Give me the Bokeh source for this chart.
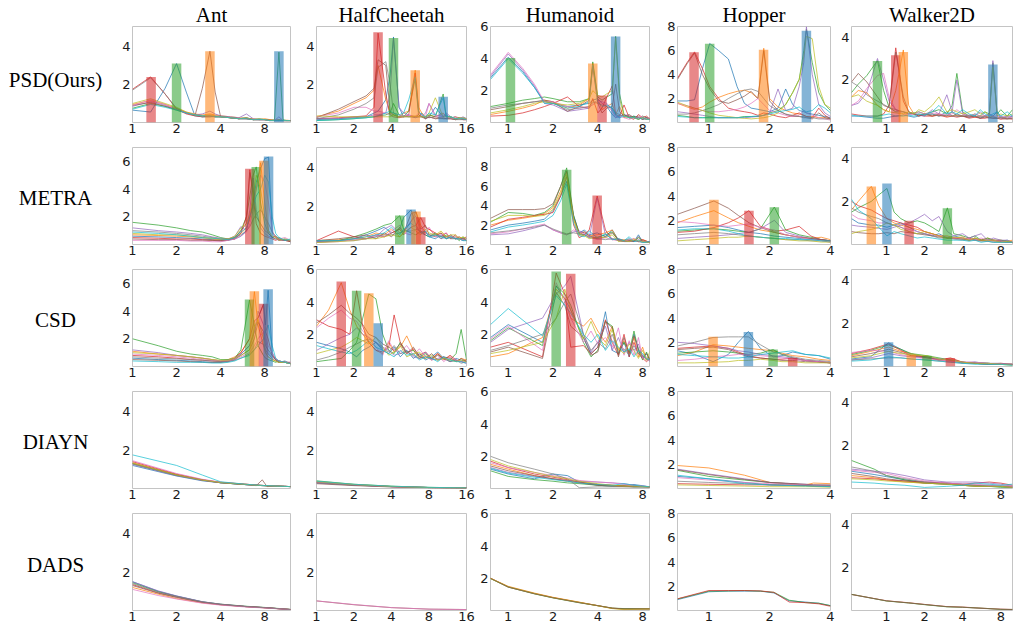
import math
from bokeh.plotting import figure
from bokeh.layouts import row, column
from bokeh.models import Range1d, FixedTicker, PrintfTickFormatter, ColumnDataSource
from bokeh.core.properties import value
from bokeh.embed import file_html
from bokeh.resources import INLINE

# ---------------- labels / axes ----------------
ROW_LABELS = ["PSD(Ours)", "METRA", "CSD", "DIAYN", "DADS"]
COLUMN_TITLES = ["Ant", "HalfCheetah", "Humanoid", "Hopper", "Walker2D"]
X_TICKS = [1, 2, 4, 8, 16]
Y_TICKS = [2, 4, 6, 8]
X_LIMITS = [(1, 12), (1, 16), (0.76, 8.9), (0.7, 4), (0.53, 9.9)]
Y_LIMITS = [
    [5.05, 5.05, 6.02, 8.02, 4.5],
    [7.0, 5.05, 10.0, 8.02, 4.5],
    [7.0, 6.02, 6.02, 8.02, 4.5],
    [5.05, 5.05, 6.02, 8.02, 4.5],
    [5.05, 5.05, 6.02, 8.02, 4.5],
]
TAB10 = ["#1f77b4", "#ff7f0e", "#2ca02c", "#d62728", "#9467bd",
         "#8c564b", "#e377c2", "#7f7f7f", "#bcbd22", "#17becf"]
BAR_COLORS = {"blue": "#1f77b4", "orange": "#ff7f0e", "green": "#2ca02c", "red": "#d62728"}

# ================= ROW 1 : PSD =================
PSD_ANT_X = [1, 1.33, 1.67, 2, 2.33, 2.67, 3, 3.38, 3.67, 4, 4.67, 5.33, 6, 6.67, 7.33, 8, 8.67, 9.33, 10, 10.67, 11.33, 12]
PSD_ANT_Y = [
    [0.65, 0.55, 1.8, 3.1, 1.6, 0.35, 0.3, 0.3, 0.35, 0.3, 0.25, 0.2, 0.25, 0.15, 0.2, 0.15, 0.12, 0.1, 0.15, 0.1, 0.1, 0.1],
    [0.95, 1.15, 0.95, 0.75, 0.55, 0.45, 0.4, 0.45, 0.4, 0.35, 0.3, 0.25, 0.2, 0.2, 0.15, 0.2, 0.15, 0.12, 0.15, 0.1, 0.12, 0.1],
    [0.75, 1.0, 0.85, 0.65, 0.5, 0.4, 0.35, 0.35, 0.3, 0.3, 0.25, 0.2, 0.2, 0.15, 0.15, 0.15, 0.1, 0.15, 3.7, 0.15, 0.1, 0.1],
    [1.75, 2.4, 1.5, 0.7, 0.45, 0.35, 0.3, 0.35, 0.3, 0.3, 0.25, 0.2, 0.2, 0.15, 0.15, 0.15, 0.12, 0.1, 0.1, 0.1, 0.1, 0.1],
    [0.85, 1.1, 0.9, 0.7, 0.5, 0.4, 0.45, 0.6, 0.45, 0.35, 0.3, 0.25, 0.45, 0.2, 0.15, 0.15, 0.1, 0.1, 0.3, 0.1, 0.1, 0.1],
    [0.9, 1.05, 0.85, 0.7, 0.5, 0.35, 1.8, 3.75, 1.6, 0.3, 0.25, 0.2, 0.25, 0.15, 0.15, 0.15, 0.12, 0.1, 0.1, 0.1, 0.1, 0.1],
    [0.9, 1.2, 0.95, 0.7, 0.5, 0.4, 0.35, 0.4, 0.35, 0.3, 0.25, 0.2, 0.2, 0.15, 0.15, 0.15, 0.1, 0.12, 0.1, 0.1, 0.1, 0.1],
    [1.7, 2.35, 1.5, 0.75, 0.5, 0.4, 0.3, 0.3, 0.3, 0.3, 0.25, 0.2, 0.2, 0.15, 0.15, 0.15, 0.1, 0.1, 0.1, 0.1, 0.1, 0.1],
    [1.0, 1.25, 1.0, 0.8, 0.55, 0.4, 0.35, 0.4, 0.35, 0.3, 0.25, 0.2, 0.25, 0.15, 0.2, 0.15, 0.12, 0.1, 0.12, 0.1, 0.1, 0.1],
    [0.7, 0.95, 0.8, 0.65, 0.5, 0.4, 0.35, 0.35, 0.3, 0.3, 0.25, 0.2, 0.2, 0.15, 0.15, 0.15, 0.1, 0.1, 0.1, 0.1, 0.1, 0.1],
]
PSD_ANT_BAR_X = [1.34, 2.0, 3.38, 10.0]
PSD_ANT_BAR_H = [2.4, 3.1, 3.75, 3.75]
PSD_ANT_BAR_C = ["red", "green", "orange", "blue"]

PSD_HC_X = [1, 1.5, 2, 2.5, 2.9, 3.12, 3.6, 3.9, 4.15, 4.6, 5, 5.5, 6.2, 6.6, 7, 7.5, 8, 9, 10.4, 11, 12, 13, 14, 15, 16]
PSD_HC_Y = [
    [0.15, 0.2, 0.25, 0.3, 0.5, 0.6, 1.2, 2.5, 4.5, 0.8, 0.3, 0.35, 0.25, 0.3, 0.5, 0.2, 0.3, 0.8, 0.3, 0.4, 0.25, 0.3, 0.2, 0.25, 0.2],
    [0.3, 0.6, 1.0, 1.3, 1.7, 3.0, 1.2, 0.5, 0.4, 0.3, 0.5, 0.6, 2.75, 0.8, 0.5, 0.3, 0.4, 0.3, 0.5, 0.3, 0.2, 0.3, 0.25, 0.2, 0.2],
    [0.1, 0.15, 0.2, 0.25, 0.3, 0.35, 0.4, 0.5, 1.0, 0.4, 0.3, 0.6, 2.3, 0.4, 0.3, 0.25, 0.4, 0.3, 1.5, 0.3, 0.3, 0.2, 0.25, 0.2, 0.2],
    [0.2, 0.25, 0.3, 0.35, 0.8, 4.7, 1.5, 0.4, 0.3, 0.25, 0.3, 0.4, 2.6, 0.6, 0.3, 0.2, 0.3, 0.2, 0.25, 0.2, 0.2, 0.15, 0.2, 0.15, 0.15],
    [0.2, 0.2, 0.3, 0.3, 0.4, 0.4, 0.5, 1.5, 4.4, 0.8, 0.5, 0.4, 0.3, 0.3, 0.3, 0.5, 1.0, 0.4, 0.3, 0.5, 0.3, 0.2, 0.2, 0.3, 0.2],
    [0.25, 0.7, 1.1, 1.4, 1.8, 3.3, 3.0, 0.6, 0.4, 0.3, 0.35, 0.3, 0.3, 0.4, 0.3, 0.3, 0.25, 0.3, 0.2, 0.2, 0.2, 0.15, 0.2, 0.15, 0.15],
    [0.3, 0.5, 0.8, 0.8, 0.6, 0.6, 0.5, 0.4, 0.5, 0.4, 0.3, 0.4, 0.3, 0.5, 0.4, 0.3, 1.0, 0.3, 0.4, 0.3, 0.2, 0.3, 0.2, 0.2, 0.2],
    [0.2, 0.4, 0.7, 1.0, 1.3, 2.9, 3.2, 2.0, 0.5, 0.3, 0.3, 0.3, 0.3, 0.3, 0.3, 0.2, 0.3, 0.2, 0.2, 0.2, 0.2, 0.15, 0.15, 0.15, 0.15],
    [0.35, 0.3, 0.3, 0.3, 0.3, 0.3, 0.3, 0.3, 0.4, 0.3, 0.3, 0.3, 0.35, 0.3, 0.3, 0.3, 0.5, 1.3, 0.3, 0.3, 0.3, 0.2, 0.2, 0.25, 0.2],
    [0.1, 0.15, 0.2, 0.25, 0.3, 0.35, 0.5, 0.6, 0.5, 0.4, 0.5, 1.2, 2.4, 0.6, 0.4, 0.3, 0.5, 0.4, 1.3, 0.3, 0.3, 0.2, 0.2, 0.2, 0.15],
]
PSD_HC_BAR_X = [3.12, 4.15, 6.2, 10.4]
PSD_HC_BAR_H = [4.75, 4.45, 2.75, 1.35]
PSD_HC_BAR_C = ["red", "green", "orange", "blue"]

PSD_HUM_X = [0.76, 1.0, 1.25, 1.5, 1.75, 2.0, 2.5, 3.0, 3.5, 3.7, 4.0, 4.27, 4.6, 5.0, 5.27, 5.6, 6.0, 6.5, 7.0, 7.5, 8.0, 8.5, 9.0]
PSD_HUM_Y = [
    [2.8, 4.1, 3.2, 2.2, 1.3, 1.2, 1.0, 1.1, 1.2, 1.4, 1.5, 1.2, 1.0, 0.5, 0.3, 0.4, 0.5, 0.3, 0.4, 0.3, 0.2, 0.3, 0.2],
    [0.5, 0.7, 0.9, 1.1, 1.4, 1.3, 0.9, 1.1, 1.5, 3.7, 1.5, 0.8, 1.0, 1.2, 0.5, 1.0, 0.3, 0.4, 0.3, 0.2, 0.3, 0.2, 0.3],
    [1.0, 1.2, 1.4, 1.5, 1.6, 1.5, 1.3, 1.3, 1.5, 3.8, 1.6, 1.4, 1.6, 1.8, 5.4, 1.8, 0.5, 0.3, 0.4, 0.2, 0.4, 0.3, 0.2],
    [0.4, 0.45, 0.6, 0.8, 1.0, 1.2, 1.6, 1.0, 0.9, 1.5, 0.6, 0.9, 1.6, 2.3, 0.5, 0.4, 1.1, 0.3, 0.2, 0.5, 0.3, 0.4, 0.2],
    [2.9, 4.3, 3.3, 2.3, 1.2, 1.1, 0.7, 0.8, 0.9, 1.2, 1.4, 1.3, 1.2, 0.8, 0.4, 0.3, 0.5, 0.4, 0.3, 0.3, 0.2, 0.3, 0.2],
    [0.8, 1.0, 1.2, 1.3, 1.4, 1.3, 0.7, 1.0, 1.4, 3.5, 1.2, 0.6, 0.9, 1.0, 2.4, 0.7, 0.4, 0.5, 0.3, 0.4, 0.2, 0.3, 0.2],
    [3.0, 4.4, 3.4, 2.4, 1.3, 1.3, 1.0, 0.9, 1.0, 1.1, 1.3, 1.2, 1.1, 0.7, 0.3, 0.4, 0.3, 0.2, 0.3, 0.3, 0.4, 0.2, 0.3],
    [0.9, 1.1, 1.2, 1.3, 1.35, 1.2, 0.8, 0.9, 1.0, 1.3, 1.2, 1.1, 1.0, 0.9, 0.6, 0.5, 0.4, 0.4, 0.3, 0.3, 0.2, 0.2, 0.2],
    [0.6, 0.8, 1.0, 1.2, 1.3, 1.2, 1.1, 1.2, 1.5, 2.0, 1.7, 1.6, 1.8, 2.0, 5.3, 1.5, 0.4, 0.3, 0.3, 0.2, 0.3, 0.2, 0.2],
    [2.7, 4.0, 3.1, 2.2, 1.2, 1.2, 0.9, 1.0, 1.3, 3.6, 1.3, 1.0, 1.1, 0.9, 0.5, 0.3, 0.4, 0.3, 0.3, 0.2, 0.3, 0.2, 0.2],
]
PSD_HUM_BAR_X = [1.035, 3.7, 4.27, 5.27]
PSD_HUM_BAR_H = [4.05, 3.7, 1.7, 5.4]
PSD_HUM_BAR_C = ["green", "orange", "red", "blue"]

PSD_HOP_X = [0.7, 0.78, 0.85, 0.93, 1.01, 1.12, 1.25, 1.38, 1.5, 1.62, 1.75, 1.87, 2.0, 2.2, 2.4, 2.6, 2.8, 2.95, 3.04, 3.25, 3.5, 3.75, 4.0]
PSD_HOP_Y = [
    [1.8, 1.8, 1.9, 4.5, 6.6, 6.0, 5.3, 3.0, 1.6, 1.2, 1.1, 1.0, 0.9, 1.2, 2.8, 1.5, 1.0, 0.9, 0.8, 0.7, 0.6, 0.5, 0.4],
    [1.6, 1.3, 1.1, 1.3, 1.7, 2.1, 2.4, 2.6, 2.7, 2.5, 2.0, 6.2, 2.0, 1.3, 1.0, 0.8, 0.7, 0.6, 0.5, 0.5, 0.4, 0.4, 0.3],
    [0.6, 0.5, 0.4, 0.4, 0.4, 0.4, 0.4, 0.4, 0.5, 0.5, 0.5, 0.6, 0.8, 1.0, 1.5, 2.5, 3.6, 6.0, 7.8, 5.0, 2.5, 1.5, 1.0],
    [3.7, 5.0, 5.9, 4.5, 3.0, 2.0, 1.2, 1.0, 0.9, 0.8, 0.6, 0.8, 0.7, 0.5, 0.4, 0.6, 0.8, 0.6, 0.5, 0.4, 1.2, 0.6, 0.3],
    [0.9, 0.8, 0.7, 0.6, 0.5, 0.4, 0.4, 0.4, 0.4, 0.45, 0.5, 0.6, 0.8, 2.8, 1.0, 1.2, 3.0, 5.0, 8.0, 4.0, 1.5, 0.8, 0.5],
    [3.6, 4.9, 5.8, 4.0, 2.8, 1.8, 1.6, 1.9, 2.2, 2.6, 2.0, 6.0, 1.8, 1.0, 0.7, 0.5, 0.5, 0.4, 0.4, 0.3, 0.8, 0.4, 0.3],
    [1.6, 1.4, 1.2, 1.0, 0.9, 0.9, 1.0, 1.1, 1.3, 1.6, 2.0, 1.5, 1.0, 0.8, 0.6, 0.5, 0.6, 1.0, 0.8, 0.6, 0.4, 0.3, 0.2],
    [0.7, 0.7, 0.8, 1.0, 1.2, 1.5, 2.0, 2.4, 2.7, 2.8, 2.6, 2.0, 1.4, 1.0, 0.7, 0.6, 0.5, 0.5, 0.4, 0.4, 0.3, 0.3, 0.3],
    [1.7, 1.4, 1.2, 1.0, 0.8, 0.6, 0.5, 0.4, 0.35, 0.3, 0.35, 0.4, 0.5, 0.8, 1.5, 2.5, 3.6, 5.5, 7.2, 7.0, 3.0, 1.5, 1.2],
    [0.5, 0.45, 0.4, 0.4, 0.4, 0.4, 0.4, 0.4, 0.45, 0.5, 0.55, 0.6, 0.7, 0.9, 1.0, 1.1, 1.3, 1.0, 0.9, 1.0, 1.5, 1.2, 0.8],
]
PSD_HOP_BAR_X = [0.845, 1.01, 1.866, 3.04]
PSD_HOP_BAR_H = [5.86, 6.57, 6.08, 7.67]
PSD_HOP_BAR_C = ["red", "green", "orange", "blue"]

PSD_WAL_X = [0.53, 0.6, 0.7, 0.85, 0.95, 1.05, 1.185, 1.36, 1.5, 1.65, 1.8, 2.0, 2.3, 2.6, 3.0, 3.3, 3.6, 4.0, 4.5, 5.0, 5.5, 6.0, 6.5, 6.93, 7.5, 8.0, 9.0, 9.9]
PSD_WAL_Y = [
    [0.3, 0.3, 0.25, 0.2, 0.2, 0.25, 0.3, 0.35, 0.3, 0.25, 0.3, 0.35, 0.4, 0.3, 0.5, 0.3, 0.4, 0.3, 0.25, 0.3, 0.2, 0.3, 0.4, 0.3, 0.5, 0.2, 0.3, 0.3],
    [1.2, 1.5, 1.4, 0.8, 0.6, 0.5, 1.5, 3.4, 0.8, 0.4, 0.3, 0.4, 0.3, 0.35, 0.3, 0.3, 0.35, 0.3, 0.3, 0.25, 0.3, 0.3, 0.25, 0.3, 0.2, 0.25, 0.2, 0.2],
    [1.4, 1.8, 2.2, 2.9, 1.5, 0.7, 0.5, 0.5, 0.4, 0.45, 0.5, 0.4, 0.5, 0.6, 0.4, 0.8, 2.3, 0.5, 0.3, 0.4, 0.3, 0.5, 0.4, 2.8, 0.4, 0.6, 0.3, 0.6],
    [0.4, 0.35, 0.3, 0.3, 0.4, 0.8, 3.5, 1.0, 0.5, 0.4, 0.35, 0.3, 0.3, 0.35, 0.25, 0.3, 0.25, 0.3, 0.2, 0.25, 0.2, 0.2, 0.25, 0.2, 0.2, 0.15, 0.2, 0.15],
    [0.8, 0.9, 1.4, 3.0, 2.0, 1.0, 0.6, 0.5, 0.4, 0.4, 0.35, 0.3, 0.6, 0.4, 1.3, 0.5, 2.0, 0.4, 0.3, 0.3, 0.5, 0.3, 0.4, 2.9, 0.3, 0.3, 0.2, 0.3],
    [1.9, 2.3, 1.9, 1.2, 0.8, 0.7, 3.3, 1.2, 0.5, 0.4, 0.3, 0.4, 0.3, 0.4, 0.3, 0.5, 0.3, 0.3, 0.25, 0.3, 0.2, 0.25, 0.2, 0.2, 0.2, 0.2, 0.15, 0.2],
    [0.8, 1.0, 1.6, 2.2, 2.3, 1.2, 0.6, 0.4, 0.35, 0.4, 0.5, 0.4, 0.45, 0.4, 0.35, 0.4, 0.6, 0.4, 0.3, 0.4, 0.3, 0.3, 0.4, 0.3, 0.3, 0.2, 0.3, 0.2],
    [1.9, 1.7, 1.3, 1.0, 0.85, 0.7, 0.6, 0.5, 0.45, 0.4, 0.4, 0.35, 0.4, 0.3, 0.35, 0.3, 0.3, 0.3, 0.35, 0.3, 0.25, 0.3, 0.25, 0.25, 0.2, 0.25, 0.2, 0.2],
    [1.2, 1.3, 1.0, 0.8, 0.6, 0.5, 0.45, 0.4, 0.5, 0.4, 0.6, 0.5, 0.8, 1.2, 0.5, 0.6, 0.5, 0.4, 0.5, 0.6, 0.4, 0.5, 0.3, 2.6, 0.3, 0.4, 0.3, 0.4],
    [0.35, 0.3, 0.3, 0.3, 0.35, 0.4, 0.3, 0.3, 0.35, 0.3, 0.4, 0.35, 0.5, 0.8, 0.4, 0.5, 0.4, 0.6, 0.4, 0.3, 0.6, 0.4, 0.3, 0.4, 0.5, 0.3, 0.5, 0.3],
]
PSD_WAL_BAR_X = [0.85, 1.185, 1.36, 6.93]
PSD_WAL_BAR_H = [2.88, 3.15, 3.31, 2.72]
PSD_WAL_BAR_C = ["green", "red", "orange", "blue"]

# ================= ROW 2 : METRA =================
METRA_ANT_X = [1, 1.5, 2, 2.5, 3, 3.5, 4, 4.5, 5, 5.5, 6, 6.33, 6.67, 7, 7.5, 8, 8.5, 9, 9.5, 10, 11, 12]
METRA_ANT_Y = [
    [0.6, 0.55, 0.5, 0.45, 0.4, 0.35, 0.3, 0.3, 0.4, 0.6, 1.0, 2.0, 3.0, 4.5, 5.5, 6.2, 6.3, 0.8, 0.5, 0.3, 0.4, 0.2],
    [0.7, 0.65, 0.6, 0.55, 0.5, 0.4, 0.35, 0.35, 0.5, 0.8, 1.2, 1.8, 3.0, 4.0, 5.9, 3.0, 1.0, 0.5, 0.6, 0.3, 0.3, 0.3],
    [1.6, 1.4, 1.2, 1.0, 0.9, 0.7, 0.5, 0.4, 0.5, 1.0, 2.0, 3.5, 5.0, 5.6, 3.0, 1.5, 0.8, 0.5, 0.4, 0.5, 0.3, 0.3],
    [0.5, 0.45, 0.4, 0.4, 0.35, 0.3, 0.3, 0.35, 0.4, 0.8, 2.0, 5.4, 3.5, 1.5, 0.8, 0.6, 0.5, 0.4, 0.3, 0.4, 0.3, 0.2],
    [1.2, 1.0, 0.9, 0.8, 0.7, 0.55, 0.45, 0.4, 0.6, 1.3, 1.0, 2.5, 4.8, 2.5, 1.2, 0.8, 0.6, 0.5, 0.4, 0.3, 0.3, 0.3],
    [0.4, 0.35, 0.35, 0.3, 0.3, 0.3, 0.25, 0.3, 0.5, 1.0, 1.5, 5.2, 4.0, 2.0, 1.5, 1.0, 0.8, 0.5, 0.6, 0.4, 0.3, 0.2],
    [0.3, 0.3, 0.3, 0.25, 0.25, 0.2, 0.2, 0.3, 0.4, 0.6, 0.9, 1.5, 2.5, 4.0, 5.0, 4.5, 3.0, 1.0, 0.5, 0.4, 0.5, 0.3],
    [1.0, 0.9, 0.8, 0.7, 0.6, 0.5, 0.4, 0.4, 0.5, 0.7, 1.0, 1.3, 1.8, 2.2, 2.5, 2.0, 1.5, 0.9, 0.6, 0.4, 0.3, 0.3],
    [0.8, 0.7, 0.7, 0.6, 0.5, 0.45, 0.4, 0.4, 0.6, 1.2, 1.5, 2.2, 3.5, 5.0, 4.0, 2.0, 1.0, 0.6, 0.5, 0.3, 0.4, 0.3],
    [0.9, 0.8, 0.7, 0.6, 0.5, 0.45, 0.4, 0.35, 0.5, 0.9, 1.2, 2.0, 2.8, 3.5, 4.0, 5.0, 4.5, 2.0, 0.8, 0.5, 0.3, 0.4],
]
METRA_ANT_BAR_X = [6.33, 7.0, 7.9, 8.5]
METRA_ANT_BAR_H = [5.46, 5.6, 6.04, 6.35]
METRA_ANT_BAR_C = ["red", "green", "orange", "blue"]

METRA_HC_X = [1, 1.5, 2, 2.5, 3, 3.5, 4, 4.66, 5, 5.74, 6.29, 6.87, 7.5, 8, 9, 10, 11, 12, 13, 14, 15, 16]
METRA_HC_Y = [
    [0.15, 0.2, 0.3, 0.5, 0.7, 0.9, 0.6, 0.8, 1.4, 1.8, 1.0, 0.6, 0.5, 0.4, 0.3, 0.5, 0.3, 0.4, 0.3, 0.3, 0.2, 0.3],
    [0.2, 0.25, 0.3, 0.4, 0.6, 0.5, 0.8, 0.4, 0.6, 1.2, 1.7, 1.0, 0.6, 0.8, 0.5, 0.6, 0.4, 0.5, 0.3, 0.4, 0.3, 0.2],
    [0.1, 0.2, 0.4, 0.6, 0.8, 1.0, 1.1, 1.5, 0.8, 0.6, 0.5, 0.7, 0.5, 0.4, 0.6, 0.3, 0.5, 0.3, 0.4, 0.2, 0.4, 0.2],
    [0.2, 0.7, 0.4, 0.3, 0.5, 0.4, 0.6, 0.8, 0.5, 0.9, 1.0, 1.4, 0.9, 0.8, 0.6, 0.4, 0.6, 0.3, 0.5, 0.3, 0.3, 0.4],
    [0.15, 0.2, 0.2, 0.3, 0.4, 0.8, 1.0, 0.6, 0.7, 1.2, 1.5, 0.6, 0.7, 0.4, 0.5, 0.3, 0.4, 0.5, 0.3, 0.3, 0.3, 0.2],
    [0.2, 0.3, 0.4, 0.5, 0.3, 0.6, 0.4, 0.9, 0.6, 1.6, 1.7, 0.8, 1.0, 0.5, 0.4, 0.6, 0.3, 0.4, 0.3, 0.4, 0.2, 0.3],
    [0.1, 0.15, 0.25, 0.3, 0.5, 0.4, 0.7, 1.0, 0.6, 0.5, 0.8, 0.9, 0.5, 0.9, 0.4, 0.5, 0.6, 0.3, 0.4, 0.3, 0.2, 0.3],
    [0.2, 0.2, 0.3, 0.3, 0.4, 0.5, 0.5, 0.6, 0.7, 0.7, 0.8, 0.7, 0.6, 0.5, 0.5, 0.4, 0.4, 0.3, 0.3, 0.3, 0.3, 0.2],
    [0.1, 0.15, 0.2, 0.3, 0.3, 0.4, 0.5, 0.4, 0.6, 0.9, 0.7, 0.5, 0.8, 0.6, 0.5, 0.7, 0.4, 0.5, 0.5, 0.3, 0.4, 0.3],
    [0.2, 0.2, 0.3, 0.4, 0.5, 0.6, 0.9, 0.5, 0.8, 1.1, 0.9, 0.6, 0.7, 0.4, 0.5, 0.4, 0.3, 0.4, 0.3, 0.3, 0.2, 0.2],
]
METRA_HC_BAR_X = [4.66, 5.74, 6.29, 6.87]
METRA_HC_BAR_H = [1.51, 1.82, 1.72, 1.42]
METRA_HC_BAR_C = ["green", "blue", "orange", "red"]

METRA_HUM_X = [0.76, 1.0, 1.25, 1.5, 1.75, 2.0, 2.25, 2.47, 2.75, 3.0, 3.25, 3.5, 3.96, 4.5, 5.0, 5.5, 6.0, 6.5, 7.0, 7.5, 8.0, 9.0]
METRA_HUM_Y = [
    [1.5, 2.0, 2.2, 2.4, 2.6, 3.5, 5.0, 6.5, 3.0, 1.2, 1.5, 1.0, 1.2, 0.8, 1.5, 0.5, 0.4, 0.6, 0.3, 1.0, 0.3, 0.3],
    [2.0, 2.5, 2.7, 2.9, 3.2, 3.8, 5.5, 7.5, 2.5, 1.0, 1.3, 0.9, 1.0, 1.2, 1.5, 0.4, 0.5, 0.4, 0.6, 0.3, 0.5, 0.2],
    [2.3, 3.3, 3.2, 3.0, 3.3, 4.0, 6.0, 7.9, 3.0, 1.1, 1.0, 0.8, 0.7, 1.0, 1.3, 0.4, 0.3, 0.5, 0.3, 0.7, 0.3, 0.2],
    [1.8, 2.6, 2.8, 3.0, 3.1, 3.3, 5.0, 7.0, 2.0, 0.7, 1.0, 1.5, 5.0, 1.5, 0.5, 0.6, 0.4, 0.3, 0.4, 0.3, 0.5, 0.2],
    [1.0, 1.1, 1.4, 1.7, 2.0, 1.5, 1.2, 1.0, 1.3, 1.4, 1.2, 0.7, 4.8, 1.0, 0.6, 0.5, 0.3, 0.4, 0.3, 0.5, 0.3, 0.3],
    [2.7, 3.6, 3.6, 3.6, 3.7, 4.2, 6.0, 7.6, 2.8, 1.2, 1.3, 0.9, 0.6, 0.8, 1.2, 0.5, 0.3, 0.4, 0.3, 0.8, 0.4, 0.2],
    [1.1, 1.3, 1.6, 1.9, 2.1, 1.5, 1.2, 1.0, 1.5, 1.3, 1.1, 0.8, 0.5, 0.7, 0.5, 0.4, 0.3, 0.5, 0.6, 0.3, 0.3, 0.2],
    [1.2, 1.4, 1.6, 1.8, 2.0, 1.6, 1.3, 1.1, 1.2, 1.1, 1.0, 0.7, 0.6, 0.5, 0.6, 0.4, 0.3, 0.3, 0.4, 0.3, 0.2, 0.2],
    [2.4, 3.0, 3.0, 2.9, 3.0, 3.6, 5.2, 7.2, 2.6, 1.0, 0.9, 0.6, 0.8, 0.7, 1.0, 0.3, 0.4, 0.3, 0.5, 0.4, 0.3, 0.2],
    [1.3, 1.8, 2.0, 2.2, 2.4, 3.0, 4.5, 6.2, 2.2, 0.9, 0.8, 1.4, 0.7, 1.1, 0.5, 0.6, 0.4, 0.8, 0.3, 0.4, 0.2, 0.3],
]
METRA_HUM_BAR_X = [2.47, 3.96]
METRA_HUM_BAR_H = [7.7, 5.05]
METRA_HUM_BAR_C = ["green", "red"]

METRA_HOP_X = [0.7, 0.85, 1.06, 1.25, 1.4, 1.58, 1.8, 2.11, 2.4, 2.8, 3.2, 3.6, 4.0]
METRA_HOP_Y = [
    [1.4, 1.5, 1.6, 1.4, 1.2, 1.0, 0.9, 0.7, 0.6, 0.5, 0.4, 0.4, 0.3],
    [1.8, 2.3, 2.8, 2.2, 1.8, 1.5, 1.2, 1.0, 0.8, 0.6, 0.5, 0.6, 0.4],
    [1.1, 1.2, 1.3, 1.2, 1.1, 1.0, 1.3, 3.1, 1.2, 0.8, 0.6, 0.4, 0.3],
    [1.0, 1.1, 1.4, 1.8, 2.2, 2.8, 1.5, 1.1, 1.2, 1.5, 0.7, 0.4, 0.3],
    [0.5, 0.6, 0.7, 0.8, 0.9, 1.0, 1.3, 2.0, 1.0, 0.7, 0.5, 0.4, 0.3],
    [2.5, 3.0, 3.6, 3.0, 2.4, 1.8, 1.4, 1.0, 0.8, 0.6, 0.5, 0.4, 0.3],
    [1.9, 1.8, 1.6, 1.5, 1.6, 1.7, 1.4, 1.2, 0.8, 0.6, 0.4, 0.3, 0.2],
    [0.8, 0.9, 1.0, 0.9, 0.8, 0.7, 0.6, 0.5, 0.4, 0.4, 0.3, 0.3, 0.2],
    [0.3, 0.4, 0.5, 0.6, 0.6, 0.7, 0.6, 0.5, 0.4, 0.3, 0.3, 0.2, 0.2],
    [1.2, 1.3, 1.3, 1.1, 0.9, 0.7, 0.6, 0.5, 0.5, 0.4, 0.4, 0.3, 0.3],
]
METRA_HOP_BAR_X = [1.06, 1.58, 2.11]
METRA_HOP_BAR_H = [3.69, 2.8, 3.08]
METRA_HOP_BAR_C = ["orange", "red", "green"]

METRA_WAL_X = [0.53, 0.6, 0.76, 0.87, 1.01, 1.15, 1.3, 1.51, 1.75, 2.0, 2.3, 2.6, 3.03, 3.4, 4.0, 4.5, 5.0, 5.6, 6.3, 7.0, 8.0, 9.0, 9.9]
METRA_WAL_Y = [
    [1.2, 1.0, 0.9, 0.9, 0.8, 0.9, 1.0, 0.8, 0.6, 0.5, 0.4, 0.5, 0.3, 0.4, 0.3, 0.2, 0.3, 0.2, 0.25, 0.2, 0.15, 0.2, 0.1],
    [1.6, 2.0, 2.7, 1.8, 1.2, 1.0, 0.9, 0.8, 0.7, 0.6, 0.5, 0.4, 0.4, 0.3, 0.35, 0.2, 0.3, 0.2, 0.3, 0.2, 0.2, 0.15, 0.2],
    [1.5, 1.7, 2.0, 2.3, 2.6, 1.5, 1.2, 1.0, 1.1, 1.0, 0.8, 0.6, 1.7, 0.5, 0.4, 0.3, 0.4, 0.2, 0.3, 0.2, 0.2, 0.15, 0.1],
    [2.0, 1.8, 1.6, 1.4, 1.2, 1.1, 1.0, 0.9, 0.8, 0.6, 0.5, 0.4, 0.3, 0.3, 0.25, 0.3, 0.2, 0.2, 0.15, 0.2, 0.15, 0.1, 0.1],
    [0.9, 0.85, 0.8, 0.75, 0.7, 0.8, 0.9, 1.0, 1.2, 1.4, 1.1, 1.3, 0.6, 0.4, 0.5, 0.3, 0.4, 0.5, 0.2, 0.3, 0.2, 0.2, 0.1],
    [0.6, 0.55, 0.5, 0.5, 0.55, 0.5, 0.6, 0.55, 0.5, 0.45, 0.4, 0.35, 0.3, 0.3, 0.25, 0.2, 0.25, 0.2, 0.2, 0.15, 0.15, 0.1, 0.1],
    [1.4, 1.2, 1.1, 1.0, 1.0, 0.9, 0.8, 0.7, 0.6, 0.5, 0.45, 0.4, 0.35, 0.3, 0.3, 0.25, 0.2, 0.3, 0.2, 0.2, 0.15, 0.1, 0.1],
    [1.7, 1.5, 1.3, 1.2, 1.0, 0.9, 0.8, 0.6, 0.5, 0.5, 0.4, 0.3, 0.3, 0.25, 0.2, 0.2, 0.2, 0.15, 0.15, 0.1, 0.1, 0.1, 0.1],
    [0.5, 0.6, 0.7, 0.8, 1.0, 0.9, 0.7, 0.6, 0.5, 0.6, 0.5, 0.4, 0.3, 0.35, 0.3, 0.2, 0.3, 0.2, 0.2, 0.2, 0.1, 0.15, 0.1],
    [2.1, 1.6, 1.2, 0.8, 0.4, 0.6, 0.5, 0.4, 0.3, 0.35, 0.3, 0.25, 0.2, 0.2, 0.2, 0.15, 0.2, 0.1, 0.15, 0.1, 0.1, 0.1, 0.1],
]
METRA_WAL_BAR_X = [0.76, 1.01, 1.51, 3.03]
METRA_WAL_BAR_H = [2.69, 2.83, 1.1, 1.68]
METRA_WAL_BAR_C = ["orange", "blue", "red", "green"]

# ================= ROW 3 : CSD =================
CSD_ANT_X = [1, 1.5, 2, 2.5, 3, 3.5, 4, 4.5, 5, 5.5, 6.3, 6.8, 7.2, 7.85, 8.1, 8.44, 9, 9.5, 10, 11, 12]
CSD_ANT_Y = [
    [0.6, 0.5, 0.45, 0.4, 0.35, 0.3, 0.3, 0.4, 0.5, 0.9, 1.5, 2.5, 3.5, 4.5, 3.0, 5.5, 1.0, 0.5, 0.3, 0.4, 0.2],
    [1.1, 0.9, 0.8, 0.7, 0.6, 0.5, 0.4, 0.5, 0.7, 1.0, 2.0, 5.4, 3.0, 1.5, 1.0, 0.7, 0.5, 0.4, 0.3, 0.3, 0.2],
    [2.0, 1.5, 1.1, 0.9, 0.8, 0.7, 0.5, 0.5, 0.6, 1.2, 4.8, 3.0, 1.5, 0.8, 0.6, 0.5, 0.4, 0.3, 0.4, 0.3, 0.2],
    [0.8, 0.7, 0.6, 0.5, 0.45, 0.4, 0.35, 0.4, 0.6, 1.0, 2.0, 3.3, 3.5, 4.5, 2.5, 2.0, 0.8, 0.5, 0.4, 0.3, 0.3],
    [1.2, 1.0, 0.8, 0.7, 0.6, 0.5, 0.4, 0.45, 0.6, 0.9, 1.5, 2.5, 4.0, 3.0, 2.0, 1.0, 0.7, 0.5, 0.4, 0.3, 0.3],
    [0.5, 0.45, 0.4, 0.35, 0.3, 0.3, 0.3, 0.35, 0.5, 0.8, 1.2, 2.0, 3.2, 2.5, 1.5, 1.2, 0.8, 0.5, 0.3, 0.3, 0.2],
    [0.9, 0.8, 0.7, 0.6, 0.5, 0.45, 0.4, 0.4, 0.5, 0.7, 1.0, 1.5, 2.0, 2.5, 2.2, 1.5, 1.0, 0.6, 0.4, 0.3, 0.2],
    [0.7, 0.6, 0.55, 0.5, 0.45, 0.4, 0.35, 0.35, 0.45, 0.6, 0.9, 1.2, 1.8, 1.6, 1.2, 0.9, 0.6, 0.4, 0.3, 0.3, 0.2],
    [1.0, 0.9, 0.8, 0.7, 0.6, 0.5, 0.45, 0.45, 0.6, 0.8, 1.2, 2.8, 3.4, 2.0, 1.0, 0.7, 0.5, 0.4, 0.3, 0.3, 0.2],
    [0.4, 0.35, 0.3, 0.3, 0.3, 0.25, 0.25, 0.3, 0.4, 0.6, 0.8, 1.2, 1.5, 2.0, 2.5, 3.0, 1.5, 0.6, 0.4, 0.3, 0.2],
]
CSD_ANT_BAR_X = [6.3, 6.8, 7.85, 8.44]
CSD_ANT_BAR_H = [4.83, 5.43, 4.52, 5.57]
CSD_ANT_BAR_C = ["green", "orange", "red", "blue"]

CSD_HC_X = [1, 1.25, 1.58, 1.85, 2.1, 2.35, 2.63, 3.0, 3.4, 3.8, 4.2, 4.7, 5.3, 6.0, 6.7, 7.5, 8.4, 9.4, 10.5, 11.8, 13.2, 14.5, 16]
CSD_HC_Y = [
    [1.5, 1.3, 1.1, 0.9, 0.6, 1.0, 1.2, 1.5, 1.0, 0.8, 1.2, 0.6, 1.0, 0.5, 0.8, 0.4, 0.6, 0.9, 0.5, 0.3, 0.5, 0.4, 0.3],
    [2.5, 3.5, 5.2, 3.5, 2.5, 2.0, 1.5, 1.0, 0.8, 1.5, 0.9, 1.2, 1.9, 1.0, 0.5, 0.7, 0.4, 0.8, 0.5, 0.6, 0.3, 0.5, 0.4],
    [0.3, 0.4, 0.5, 1.0, 1.5, 3.0, 4.5, 4.2, 2.0, 1.0, 0.8, 1.5, 0.9, 1.0, 0.6, 0.8, 0.5, 0.7, 0.5, 0.4, 0.8, 2.3, 0.4],
    [2.9, 2.5, 2.3, 2.0, 4.7, 2.5, 1.5, 1.0, 0.9, 1.2, 3.2, 1.5, 0.8, 1.1, 0.7, 0.9, 0.5, 0.8, 0.4, 0.7, 0.4, 0.3, 0.4],
    [1.0, 1.4, 1.8, 2.0, 2.4, 2.0, 1.8, 1.5, 1.2, 1.0, 0.7, 0.8, 1.0, 0.6, 0.5, 0.9, 0.4, 0.5, 0.6, 0.3, 0.4, 0.3, 0.2],
    [2.7, 3.2, 3.8, 3.3, 3.0, 2.6, 2.0, 1.8, 1.4, 1.2, 1.0, 1.4, 0.8, 1.2, 0.6, 0.5, 0.8, 0.4, 0.6, 0.5, 0.3, 0.5, 0.3],
    [2.4, 3.0, 3.5, 3.0, 2.8, 2.2, 1.8, 1.2, 0.7, 1.6, 1.0, 0.9, 1.3, 0.7, 1.1, 0.6, 0.4, 0.7, 0.3, 0.6, 0.4, 0.3, 0.2],
    [0.4, 0.6, 0.9, 1.2, 1.4, 1.6, 1.7, 1.5, 1.1, 0.9, 1.3, 0.8, 0.9, 0.7, 0.5, 0.6, 0.5, 0.4, 0.5, 0.3, 0.4, 0.2, 0.3],
    [0.8, 1.0, 1.2, 1.5, 1.8, 1.6, 1.4, 1.8, 1.2, 0.7, 0.9, 1.3, 0.6, 0.8, 0.9, 0.5, 0.7, 0.4, 0.5, 0.4, 0.3, 0.4, 0.3],
    [1.3, 1.1, 0.9, 0.8, 1.0, 1.3, 1.6, 1.2, 1.0, 0.8, 0.6, 1.0, 0.7, 0.8, 0.4, 0.6, 0.5, 0.3, 0.6, 0.4, 0.3, 0.3, 0.2],
]
CSD_HC_BAR_X = [1.58, 2.1, 2.63, 3.13]
CSD_HC_BAR_H = [5.27, 4.7, 4.54, 2.69]
CSD_HC_BAR_C = ["red", "green", "orange", "blue"]

CSD_HUM_X = [0.76, 1.0, 1.7, 2.1, 2.4, 2.63, 3.2, 3.6, 4.0, 4.5, 5.0, 5.5, 6.0, 6.5, 7.0, 7.5, 8.0, 8.5, 9.0]
CSD_HUM_Y = [
    [1.8, 2.6, 1.5, 5.0, 4.2, 3.5, 1.8, 0.8, 1.2, 3.4, 1.0, 0.8, 1.5, 0.6, 2.0, 1.0, 0.5, 0.8, 0.4],
    [0.6, 0.8, 1.8, 4.8, 4.2, 3.0, 2.5, 3.0, 2.2, 1.5, 2.5, 1.0, 1.6, 0.8, 1.8, 0.6, 1.2, 0.4, 0.6],
    [1.6, 2.4, 1.3, 5.0, 4.5, 3.8, 1.5, 0.6, 1.0, 2.8, 2.5, 0.8, 1.5, 0.9, 2.2, 1.0, 0.4, 0.9, 0.3],
    [1.2, 1.5, 0.6, 5.8, 4.5, 1.2, 1.3, 0.8, 1.2, 2.9, 1.5, 0.7, 2.0, 0.6, 1.5, 0.8, 0.5, 0.3, 0.5],
    [1.5, 2.3, 3.0, 4.5, 5.0, 5.6, 2.0, 0.9, 1.5, 2.5, 1.0, 1.8, 0.9, 1.5, 1.0, 1.4, 0.6, 0.5, 0.3],
    [0.9, 1.2, 0.5, 4.6, 3.8, 2.5, 1.8, 0.7, 0.9, 2.8, 2.4, 0.6, 1.8, 0.8, 1.9, 1.1, 0.6, 0.8, 0.4],
    [1.7, 2.5, 1.0, 5.2, 4.0, 3.0, 1.5, 2.2, 1.4, 1.8, 1.2, 2.4, 0.7, 1.6, 0.7, 1.8, 0.5, 0.6, 0.3],
    [1.0, 1.3, 2.0, 3.0, 4.0, 4.5, 2.0, 1.0, 1.5, 1.1, 2.0, 0.9, 1.1, 0.7, 1.3, 0.8, 0.7, 0.4, 0.5],
    [0.8, 1.0, 1.5, 3.0, 4.8, 3.5, 1.7, 2.8, 1.8, 1.3, 2.3, 1.1, 0.8, 1.4, 1.0, 0.5, 1.0, 0.4, 1.0],
    [2.6, 3.6, 1.9, 4.4, 3.8, 3.3, 2.0, 1.5, 2.0, 1.0, 1.6, 1.2, 0.9, 1.1, 0.6, 1.0, 0.8, 0.5, 0.4],
]
CSD_HUM_BAR_X = [2.1, 2.63]
CSD_HUM_BAR_H = [5.9, 5.75]
CSD_HUM_BAR_C = ["green", "red"]

CSD_HOP_X = [0.7, 0.85, 1.05, 1.25, 1.4, 1.57, 1.8, 2.08, 2.3, 2.6, 3.0, 3.5, 4.0]
CSD_HOP_Y = [
    [1.3, 1.0, 0.4, 1.0, 2.0, 2.9, 1.5, 0.8, 0.9, 1.2, 1.0, 0.9, 0.6],
    [0.9, 1.2, 1.8, 1.7, 1.6, 1.5, 1.4, 1.3, 1.1, 0.9, 0.8, 0.6, 0.5],
    [1.1, 1.2, 1.3, 1.2, 1.1, 1.0, 1.1, 1.4, 1.0, 0.7, 0.5, 0.4, 0.3],
    [1.5, 1.6, 1.7, 1.5, 1.2, 0.9, 0.7, 0.6, 0.6, 0.7, 0.5, 0.4, 0.3],
    [2.0, 1.9, 1.7, 1.5, 1.3, 1.2, 1.0, 0.9, 0.8, 0.7, 0.5, 0.4, 0.3],
    [1.4, 1.5, 1.6, 1.4, 1.1, 0.8, 0.7, 0.6, 0.5, 0.5, 0.4, 0.35, 0.3],
    [0.5, 0.6, 0.8, 0.9, 1.0, 1.0, 0.9, 0.8, 0.7, 0.6, 0.5, 0.4, 0.35],
    [1.7, 2.0, 2.4, 2.45, 2.45, 2.45, 1.8, 1.2, 1.0, 0.8, 0.6, 0.5, 0.4],
    [0.3, 0.3, 0.35, 0.4, 0.5, 0.5, 0.6, 0.5, 0.4, 0.4, 0.3, 0.3, 0.3],
    [1.0, 0.9, 0.8, 0.7, 0.7, 0.8, 1.0, 1.1, 1.2, 1.3, 1.0, 0.9, 0.7],
]
CSD_HOP_BAR_X = [1.05, 1.57, 2.08, 2.6]
CSD_HOP_BAR_H = [2.45, 2.86, 1.4, 0.7]
CSD_HOP_BAR_C = ["orange", "blue", "green", "red"]

CSD_WAL_X = [0.53, 0.75, 1.04, 1.3, 1.57, 2.09, 2.6, 3.2, 4.0, 5.0, 6.3, 8.0, 9.9]
CSD_WAL_Y = [
    [0.35, 0.45, 1.1, 0.8, 0.55, 0.45, 0.35, 0.3, 0.15, 0.2, 0.15, 0.1, 0.1],
    [0.5, 0.7, 0.9, 0.7, 0.6, 0.4, 0.3, 0.35, 0.2, 0.15, 0.1, 0.15, 0.1],
    [0.55, 0.75, 1.0, 0.8, 0.6, 0.5, 0.4, 0.3, 0.2, 0.15, 0.15, 0.1, 0.1],
    [0.6, 0.8, 1.05, 0.75, 0.5, 0.45, 0.3, 0.4, 0.2, 0.15, 0.1, 0.1, 0.1],
    [0.3, 0.4, 0.6, 0.5, 0.45, 0.4, 0.35, 0.3, 0.2, 0.2, 0.15, 0.15, 0.1],
    [0.45, 0.6, 0.8, 0.65, 0.5, 0.4, 0.3, 0.25, 0.2, 0.15, 0.1, 0.1, 0.1],
    [0.65, 0.75, 0.7, 0.55, 0.45, 0.35, 0.3, 0.25, 0.2, 0.2, 0.15, 0.1, 0.1],
    [0.3, 0.35, 0.4, 0.4, 0.35, 0.3, 0.25, 0.2, 0.15, 0.15, 0.1, 0.1, 0.1],
    [0.4, 0.5, 0.7, 0.6, 0.55, 0.5, 0.35, 0.3, 0.2, 0.15, 0.15, 0.1, 0.05],
    [0.25, 0.3, 0.45, 0.4, 0.35, 0.3, 0.25, 0.2, 0.15, 0.1, 0.1, 0.1, 0.05],
]
CSD_WAL_BAR_X = [1.04, 1.57, 2.09, 3.2]
CSD_WAL_BAR_H = [1.12, 0.55, 0.5, 0.4]
CSD_WAL_BAR_C = ["blue", "orange", "green", "red"]

# ================= ROW 4 : DIAYN =================
DIAYN_ANT_X = [1, 2, 3, 4, 6, 7, 7.7, 8.3, 10, 12]
DIAYN_ANT_Y = [
    [1.2, 0.65, 0.4, 0.3, 0.2, 0.17, 0.15, 0.14, 0.12, 0.1],
    [1.35, 0.72, 0.45, 0.32, 0.22, 0.18, 0.16, 0.15, 0.12, 0.1],
    [1.3, 0.7, 0.45, 0.3, 0.2, 0.18, 0.16, 0.14, 0.12, 0.1],
    [1.4, 0.75, 0.46, 0.32, 0.22, 0.18, 0.16, 0.15, 0.12, 0.1],
    [1.25, 0.67, 0.42, 0.3, 0.2, 0.17, 0.15, 0.14, 0.12, 0.1],
    [1.3, 0.7, 0.44, 0.3, 0.2, 0.15, 0.45, 0.1, 0.12, 0.1],
    [1.45, 0.78, 0.48, 0.33, 0.22, 0.18, 0.16, 0.15, 0.12, 0.1],
    [1.28, 0.68, 0.43, 0.3, 0.2, 0.17, 0.15, 0.14, 0.12, 0.1],
    [1.32, 0.71, 0.44, 0.31, 0.21, 0.17, 0.15, 0.14, 0.12, 0.1],
    [1.75, 1.2, 0.7, 0.35, 0.22, 0.18, 0.16, 0.15, 0.12, 0.1],
]

DIAYN_HC_X = [1, 2, 4, 8, 16]
DIAYN_HC_Y = [
    [0.3, 0.18, 0.1, 0.05, 0.03],
    [0.35, 0.2, 0.1, 0.05, 0.03],
    [0.4, 0.22, 0.12, 0.06, 0.03],
    [0.32, 0.19, 0.1, 0.05, 0.03],
    [0.28, 0.17, 0.09, 0.05, 0.03],
    [0.25, 0.15, 0.08, 0.04, 0.03],
    [0.33, 0.2, 0.1, 0.05, 0.03],
    [0.3, 0.18, 0.1, 0.05, 0.03],
    [0.36, 0.21, 0.11, 0.05, 0.03],
    [0.38, 0.22, 0.12, 0.06, 0.03],
]

DIAYN_HUM_X = [0.76, 1.0, 1.5, 2.0, 2.5, 3.0, 4.0, 5.0, 6.0, 7.0, 9.0]
DIAYN_HUM_Y = [
    [1.2, 0.9, 0.6, 0.9, 0.8, 0.4, 0.2, 0.15, 0.2, 0.25, 0.1],
    [1.5, 1.2, 0.8, 0.6, 0.5, 0.4, 0.25, 0.2, 0.15, 0.15, 0.1],
    [1.1, 0.75, 0.55, 0.45, 0.35, 0.3, 0.2, 0.15, 0.15, 0.1, 0.1],
    [1.7, 1.3, 0.9, 0.7, 0.55, 0.4, 0.25, 0.2, 0.15, 0.15, 0.1],
    [1.3, 1.0, 0.75, 0.6, 0.5, 0.45, 0.4, 0.35, 0.3, 0.2, 0.1],
    [1.4, 1.1, 0.8, 0.6, 0.45, 0.35, 0.2, 0.15, 0.12, 0.1, 0.1],
    [1.6, 1.3, 1.0, 0.8, 0.65, 0.5, 0.4, 0.35, 0.25, 0.2, 0.1],
    [2.0, 1.6, 1.2, 0.9, 0.6, 0.05, 0.1, 0.1, 0.1, 0.1, 0.1],
    [1.8, 1.4, 1.0, 0.75, 0.6, 0.45, 0.3, 0.2, 0.15, 0.15, 0.1],
    [1.25, 0.95, 0.7, 0.55, 0.45, 0.35, 0.25, 0.2, 0.3, 0.2, 0.1],
]

DIAYN_HOP_X = [0.7, 1.0, 1.5, 2.0, 3.0, 3.3, 4.0]
DIAYN_HOP_Y = [
    [1.0, 0.8, 0.5, 0.3, 0.25, 0.2, 0.2],
    [1.9, 1.7, 1.1, 0.5, 0.3, 0.45, 0.4],
    [1.5, 1.0, 0.7, 0.5, 0.3, 0.25, 0.2],
    [0.4, 0.35, 0.3, 0.3, 0.25, 0.2, 0.2],
    [1.6, 1.2, 0.8, 0.5, 0.35, 0.3, 0.25],
    [1.55, 1.15, 0.75, 0.5, 0.35, 0.3, 0.3],
    [0.9, 0.7, 0.5, 0.4, 0.3, 0.25, 0.2],
    [0.6, 0.5, 0.4, 0.3, 0.25, 0.2, 0.2],
    [0.3, 0.25, 0.2, 0.15, 0.15, 0.15, 0.1],
    [1.1, 0.8, 0.4, 0.3, 0.2, 0.2, 0.15],
]

DIAYN_WAL_X = [0.53, 0.8, 1.0, 1.4, 2.0, 3.0, 4.0, 5.0, 6.5, 8.0, 9.9]
DIAYN_WAL_Y = [
    [0.8, 0.65, 0.55, 0.4, 0.3, 0.25, 0.2, 0.15, 0.15, 0.1, 0.1],
    [0.6, 0.5, 0.4, 0.3, 0.25, 0.2, 0.15, 0.15, 0.1, 0.1, 0.1],
    [1.3, 0.9, 0.6, 0.4, 0.25, 0.2, 0.15, 0.1, 0.1, 0.05, 0.05],
    [0.5, 0.45, 0.4, 0.35, 0.3, 0.25, 0.2, 0.25, 0.3, 0.25, 0.15],
    [0.9, 0.8, 0.75, 0.6, 0.4, 0.3, 0.3, 0.3, 0.25, 0.2, 0.1],
    [0.7, 0.55, 0.45, 0.35, 0.25, 0.2, 0.15, 0.1, 0.1, 0.1, 0.05],
    [0.85, 0.75, 0.7, 0.5, 0.35, 0.25, 0.2, 0.2, 0.15, 0.15, 0.1],
    [1.0, 0.8, 0.6, 0.45, 0.3, 0.2, 0.15, 0.15, 0.1, 0.1, 0.05],
    [0.45, 0.4, 0.35, 0.3, 0.25, 0.2, 0.15, 0.1, 0.1, 0.1, 0.05],
    [0.3, 0.25, 0.2, 0.15, 0.05, 0.1, 0.15, 0.25, 0.2, 0.15, 0.2],
]

# ================= ROW 5 : DADS =================
DADS_ANT_X = [1, 1.5, 2, 3, 4, 6, 8, 12]
DADS_ANT_Y = [
    [1.5, 1.0, 0.75, 0.45, 0.32, 0.2, 0.15, 0.05],
    [1.2, 0.85, 0.62, 0.4, 0.3, 0.2, 0.14, 0.05],
    [1.45, 0.98, 0.74, 0.45, 0.33, 0.22, 0.16, 0.06],
    [1.35, 0.92, 0.7, 0.43, 0.31, 0.2, 0.15, 0.05],
    [1.5, 1.02, 0.76, 0.46, 0.33, 0.21, 0.15, 0.05],
    [1.3, 0.9, 0.68, 0.42, 0.3, 0.2, 0.14, 0.05],
    [1.1, 0.78, 0.6, 0.38, 0.28, 0.18, 0.13, 0.05],
    [1.4, 0.95, 0.72, 0.44, 0.32, 0.21, 0.15, 0.05],
]

DADS_HC_X = [1, 2, 4, 8, 16]
DADS_HC_Y = [
    [0.5, 0.3, 0.15, 0.07, 0.05],
    [0.5, 0.31, 0.15, 0.07, 0.05],
]
DADS_HC_COLORS = [5, 6]

DADS_HUM_X = [0.76, 1.0, 1.5, 2.0, 3.0, 4.0, 5.0, 6.0, 9.0]
DADS_HUM_Y = [
    [2.0, 1.45, 1.05, 0.8, 0.5, 0.3, 0.15, 0.1, 0.1],
    [2.0, 1.5, 1.08, 0.82, 0.52, 0.3, 0.13, 0.08, 0.1],
    [1.98, 1.45, 1.03, 0.78, 0.48, 0.3, 0.15, 0.12, 0.1],
    [2.0, 1.48, 1.06, 0.8, 0.51, 0.29, 0.12, 0.05, 0.1],
    [2.0, 1.46, 1.04, 0.79, 0.49, 0.3, 0.14, 0.1, 0.1],
]
DADS_HUM_COLORS = [3, 1, 2, 8, 5]

DADS_HOP_X = [0.7, 1.0, 1.25, 1.5, 1.8, 2.1, 2.5, 3.0, 3.5, 4.0]
DADS_HOP_Y = [
    [0.9, 1.55, 1.6, 1.6, 1.6, 1.45, 0.8, 0.7, 0.6, 0.4],
    [0.95, 1.6, 1.62, 1.65, 1.6, 1.5, 0.85, 0.65, 0.6, 0.4],
    [0.97, 1.65, 1.65, 1.65, 1.62, 1.5, 0.7, 0.65, 0.55, 0.35],
]
DADS_HOP_COLORS = [0, 2, 3]

DADS_WAL_X = [0.53, 1.0, 1.5, 2.0, 3.0, 4.0, 6.0, 8.0, 9.9]
DADS_WAL_Y = [
    [0.75, 0.45, 0.36, 0.28, 0.18, 0.16, 0.1, 0.06, 0.05],
    [0.75, 0.44, 0.35, 0.27, 0.17, 0.15, 0.1, 0.05, 0.05],
    [0.74, 0.45, 0.35, 0.28, 0.18, 0.15, 0.09, 0.06, 0.04],
]
DADS_WAL_COLORS = [3, 2, 5]

# ---------------- table built from the arrays ----------------
def spec(x, y, bx=None, bh=None, bc=None, lc=None):
    return dict(x=x, y=y, bx=bx or [], bh=bh or [], bc=bc or [], lc=lc)

PANELS = [
    [spec(PSD_ANT_X, PSD_ANT_Y, PSD_ANT_BAR_X, PSD_ANT_BAR_H, PSD_ANT_BAR_C),
     spec(PSD_HC_X, PSD_HC_Y, PSD_HC_BAR_X, PSD_HC_BAR_H, PSD_HC_BAR_C),
     spec(PSD_HUM_X, PSD_HUM_Y, PSD_HUM_BAR_X, PSD_HUM_BAR_H, PSD_HUM_BAR_C),
     spec(PSD_HOP_X, PSD_HOP_Y, PSD_HOP_BAR_X, PSD_HOP_BAR_H, PSD_HOP_BAR_C),
     spec(PSD_WAL_X, PSD_WAL_Y, PSD_WAL_BAR_X, PSD_WAL_BAR_H, PSD_WAL_BAR_C)],
    [spec(METRA_ANT_X, METRA_ANT_Y, METRA_ANT_BAR_X, METRA_ANT_BAR_H, METRA_ANT_BAR_C),
     spec(METRA_HC_X, METRA_HC_Y, METRA_HC_BAR_X, METRA_HC_BAR_H, METRA_HC_BAR_C),
     spec(METRA_HUM_X, METRA_HUM_Y, METRA_HUM_BAR_X, METRA_HUM_BAR_H, METRA_HUM_BAR_C),
     spec(METRA_HOP_X, METRA_HOP_Y, METRA_HOP_BAR_X, METRA_HOP_BAR_H, METRA_HOP_BAR_C),
     spec(METRA_WAL_X, METRA_WAL_Y, METRA_WAL_BAR_X, METRA_WAL_BAR_H, METRA_WAL_BAR_C)],
    [spec(CSD_ANT_X, CSD_ANT_Y, CSD_ANT_BAR_X, CSD_ANT_BAR_H, CSD_ANT_BAR_C),
     spec(CSD_HC_X, CSD_HC_Y, CSD_HC_BAR_X, CSD_HC_BAR_H, CSD_HC_BAR_C),
     spec(CSD_HUM_X, CSD_HUM_Y, CSD_HUM_BAR_X, CSD_HUM_BAR_H, CSD_HUM_BAR_C),
     spec(CSD_HOP_X, CSD_HOP_Y, CSD_HOP_BAR_X, CSD_HOP_BAR_H, CSD_HOP_BAR_C),
     spec(CSD_WAL_X, CSD_WAL_Y, CSD_WAL_BAR_X, CSD_WAL_BAR_H, CSD_WAL_BAR_C)],
    [spec(DIAYN_ANT_X, DIAYN_ANT_Y), spec(DIAYN_HC_X, DIAYN_HC_Y),
     spec(DIAYN_HUM_X, DIAYN_HUM_Y), spec(DIAYN_HOP_X, DIAYN_HOP_Y),
     spec(DIAYN_WAL_X, DIAYN_WAL_Y)],
    [spec(DADS_ANT_X, DADS_ANT_Y), spec(DADS_HC_X, DADS_HC_Y, lc=DADS_HC_COLORS),
     spec(DADS_HUM_X, DADS_HUM_Y, lc=DADS_HUM_COLORS),
     spec(DADS_HOP_X, DADS_HOP_Y, lc=DADS_HOP_COLORS),
     spec(DADS_WAL_X, DADS_WAL_Y, lc=DADS_WAL_COLORS)],
]

# ---------------- layout (pixels) ----------------
LABEL_W = 112
COL_BORDER_L = [20, 16, 14, 17, 12]
FRAME_W = [158, 150, 159, 153, 162]
COL_BORDER_R = [10, 10, 11, 8, 1]
ROW_TOP = [25, 8, 8, 8, 8]
ROW_H = [139, 122, 122, 122, 123]
FRAME_H = 97
ROW_LABEL_CANVAS_Y = [77, 202, 324, 446, 570]
BAR_PX = 9.5
TICK_FONT = "DejaVu Sans"
SERIF = "Liberation Serif"


def make_panel(r, c):
    sp = PANELS[r][c]
    xmin, xmax = X_LIMITS[c]
    ymax = Y_LIMITS[r][c]
    H = ROW_H[r]
    W = COL_BORDER_L[c] + FRAME_W[c] + COL_BORDER_R[c]
    p = figure(width=W, height=H, x_axis_type="log",
               x_range=Range1d(xmin, xmax), y_range=Range1d(0, ymax),
               output_backend="svg", toolbar_location=None,
               min_border_left=COL_BORDER_L[c], min_border_right=COL_BORDER_R[c],
               min_border_top=ROW_TOP[r], min_border_bottom=H - FRAME_H - ROW_TOP[r])
    if r == 0:
        p.title.text = COLUMN_TITLES[c]
        p.title.align = "center"
        p.title.text_font = SERIF
        p.title.text_font_size = "21px"
        p.title.text_font_style = "normal"
        p.title.text_color = "black"
        p.title.standoff = 0
        p.title.text_line_height = 1.0
    p.xgrid.visible = False
    p.ygrid.visible = False
    p.outline_line_color = "#c4c4c4"
    p.outline_line_width = 1
    p.background_fill_color = "white"
    p.border_fill_color = "white"
    for ax, ticks in ((p.xaxis, X_TICKS), (p.yaxis, Y_TICKS)):
        ax.ticker = FixedTicker(ticks=ticks)
        ax.formatter = PrintfTickFormatter(format="%d")
        ax.axis_line_color = None
        ax.major_tick_line_color = None
        ax.minor_tick_line_color = None
        ax.major_tick_out = 0
        ax.major_tick_in = 0
        ax.major_label_text_font = TICK_FONT
        ax.major_label_text_font_size = "13px"
        ax.major_label_text_color = "#1a1a1a"
        ax.major_label_standoff = 2
    p.xaxis.major_label_standoff = 1

    cols = sp["lc"]
    for i, ys in enumerate(sp["y"]):
        color = TAB10[cols[i]] if cols else TAB10[i % 10]
        n = min(len(ys), len(sp["x"]))
        p.line(sp["x"][:n], ys[:n], line_color=color, line_width=0.8, line_alpha=0.9)

    if sp["bx"]:
        hw = (BAR_PX / 2.0) * math.log2(xmax / xmin) / FRAME_W[c]
        src = ColumnDataSource(dict(
            left=[b * 2 ** (-hw) for b in sp["bx"]],
            right=[b * 2 ** hw for b in sp["bx"]],
            top=sp["bh"],
            color=[BAR_COLORS[k] for k in sp["bc"]],
        ))
        p.quad(left="left", right="right", bottom=0, top="top", source=src,
               fill_color="color", fill_alpha=0.55, line_color=None)
    return p


def blank(width, height):
    f = figure(width=width, height=height, x_range=Range1d(0, width), y_range=Range1d(0, height),
               output_backend="svg", toolbar_location=None, min_border=0,
               x_axis_location=None, y_axis_location=None)
    f.outline_line_color = None
    f.xgrid.visible = False
    f.ygrid.visible = False
    f.background_fill_color = "white"
    f.border_fill_color = "white"
    return f


rows = []
fig_top = 0
for r in range(5):
    H = ROW_H[r]
    lab = blank(LABEL_W, H)
    lab.text(x=[55], y=[fig_top + H - ROW_LABEL_CANVAS_Y[r]], text=[ROW_LABELS[r]],
             text_font=value(SERIF), text_font_size="21px", text_align="center",
             text_baseline="middle", text_color="black")
    rows.append(row([lab] + [make_panel(r, c) for c in range(5)]))
    fig_top += H

layout = column(rows)
open("out.html", "w").write(file_html(layout, INLINE))
